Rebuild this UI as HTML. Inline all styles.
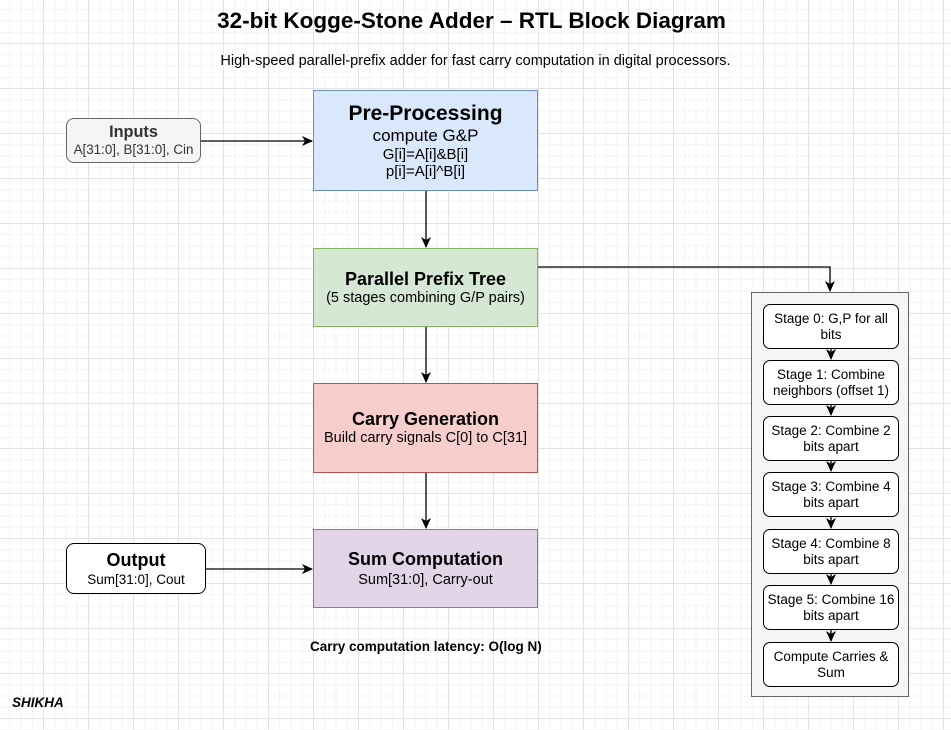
<!DOCTYPE html>
<html><head><meta charset="utf-8"><style>
body{margin:0;width:951px;height:730px;overflow:hidden;font-family:"Liberation Sans",Arial,sans-serif;
background-color:#fff;
background-image:linear-gradient(#e3e3e3 1px,transparent 1px),linear-gradient(90deg,#e3e3e3 1px,transparent 1px),linear-gradient(#f3f3f3 1px,transparent 1px),linear-gradient(90deg,#f3f3f3 1px,transparent 1px);
background-size:45px 45px,45px 45px,11.25px 11.25px,11.25px 11.25px;background-position:43px 43px,43px 43px,43px 43px,43px 43px;position:relative}
.b{position:absolute;box-sizing:border-box;display:flex;flex-direction:column;align-items:center;justify-content:center;text-align:center;color:#000;white-space:nowrap}
.s{position:absolute;left:763px;width:136px;height:45px;box-sizing:border-box;background:#fff;border:1px solid #000;border-radius:7px;display:flex;align-items:center;justify-content:center;text-align:center;font-size:13.5px;line-height:16px;padding:0 2px}
.t{position:absolute;white-space:nowrap}
</style></head><body>
<div class="t" style="left:-4px;width:951px;text-align:center;top:8px;font-size:22.5px;font-weight:bold">32-bit Kogge-Stone Adder – RTL Block Diagram</div>
<div class="t" style="left:0;width:951px;text-align:center;top:53px;font-size:14.5px">High-speed parallel-prefix adder for fast carry computation in digital processors.</div>

<div class="b" style="left:66px;top:118px;width:135px;height:45px;background:#f5f5f5;border:1px solid #666;border-radius:8px;color:#333">
<div style="font-size:16.3px;font-weight:bold;line-height:19px">Inputs</div><div style="font-size:13.4px;line-height:16px">A[31:0], B[31:0], Cin</div></div>

<div class="b" style="left:313px;top:90px;width:225px;height:101px;background:#dae8fc;border:1px solid #6c8ebf">
<div style="font-size:21px;font-weight:bold;line-height:24px">Pre-Processing</div>
<div style="font-size:17px;line-height:20px">compute G&amp;P</div>
<div style="font-size:15px;line-height:17px">G[i]=A[i]&amp;B[i]</div>
<div style="font-size:15px;line-height:17px">p[i]=A[i]^B[i]</div></div>

<div class="b" style="left:313px;top:248px;width:225px;height:79px;background:#d5e8d4;border:1px solid #82b366">
<div style="font-size:18px;font-weight:bold;line-height:21px">Parallel Prefix Tree</div>
<div style="font-size:14.5px;line-height:17px">(5 stages combining G/P pairs)</div></div>

<div class="b" style="left:313px;top:383px;width:225px;height:90px;background:#f8cecc;border:1px solid #b85450">
<div style="font-size:18px;font-weight:bold;line-height:21px">Carry Generation</div>
<div style="font-size:14.5px;line-height:17px">Build carry signals C[0] to C[31]</div></div>

<div class="b" style="left:313px;top:529px;width:225px;height:79px;background:#e1d5e7;border:1px solid #9673a6">
<div style="font-size:18px;font-weight:bold;line-height:23px">Sum Computation</div>
<div style="font-size:14.5px;line-height:19px">Sum[31:0], Carry-out</div></div>

<div class="b" style="left:66px;top:543px;width:140px;height:51px;background:#fff;border:1px solid #000;border-radius:8px">
<div style="font-size:18px;font-weight:bold;line-height:21px">Output</div>
<div style="font-size:13.5px;line-height:17px">Sum[31:0], Cout</div></div>

<div class="t" style="left:310px;top:639px;font-size:13.5px;font-weight:bold">Carry computation latency: O(log N)</div>
<div class="t" style="left:12px;top:695px;font-size:13.5px;font-weight:bold;font-style:italic">SHIKHA</div>

<div style="position:absolute;left:751px;top:292px;width:158px;height:405px;box-sizing:border-box;background:#f5f5f5;border:1.5px solid #666"></div>
<div class="s" style="top:304px">Stage 0: G,P for all bits</div>
<div class="s" style="top:360px">Stage 1: Combine neighbors (offset 1)</div>
<div class="s" style="top:416px">Stage 2: Combine 2 bits apart</div>
<div class="s" style="top:472px">Stage 3: Combine 4 bits apart</div>
<div class="s" style="top:529px">Stage 4: Combine 8 bits apart</div>
<div class="s" style="top:585px">Stage 5: Combine 16 bits apart</div>
<div class="s" style="top:642px">Compute Carries &amp; Sum</div>

<svg width="951" height="730" style="position:absolute;left:0;top:0" fill="none" stroke="#000" stroke-width="1.3">
<defs><marker id="a" markerWidth="11" markerHeight="10" refX="10" refY="5" orient="auto" markerUnits="userSpaceOnUse"><path d="M0,0 L11,5 L0,10 L3,5z" fill="#000" stroke="none"/></marker></defs>
<path d="M201,141 H312" marker-end="url(#a)"/>
<path d="M426,191 V247" marker-end="url(#a)"/>
<path d="M426,327 V382" marker-end="url(#a)"/>
<path d="M426,473 V528" marker-end="url(#a)"/>
<path d="M206,569 H312" marker-end="url(#a)"/>
<path d="M538,267 H830 V291" marker-end="url(#a)"/>
<path d="M831,349 V359" marker-end="url(#a)"/>
<path d="M831,405 V415" marker-end="url(#a)"/>
<path d="M831,461 V471" marker-end="url(#a)"/>
<path d="M831,517 V528" marker-end="url(#a)"/>
<path d="M831,574 V584" marker-end="url(#a)"/>
<path d="M831,630 V641" marker-end="url(#a)"/>
</svg>
</body></html>
